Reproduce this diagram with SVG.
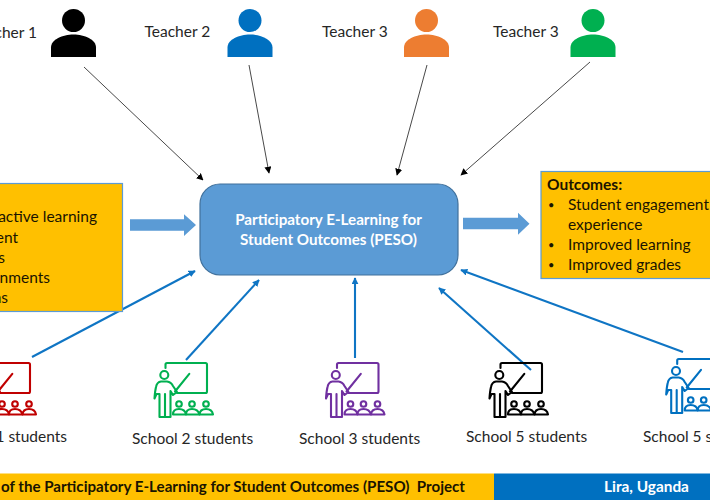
<svg xmlns="http://www.w3.org/2000/svg" width="710" height="500" viewBox="0 0 710 500">
  <style>
    text { font-family: "Lato", "Liberation Sans", sans-serif; font-size: 15.5px; fill: #262626; white-space: pre; }
    .mid { text-anchor: middle; }
    .end { text-anchor: end; }
    .box { fill: #FFC000; stroke: #5B9BD5; stroke-width: 1.2; }
    .list { fill: #1a1400; }
    .dot { fill: #1a1400; font-size: 11px; }
    .head { font-weight: 700; }
    .core { fill: #5B9BD5; stroke: #41719C; stroke-width: 1.2; }
    .core-label { fill: #fff; font-weight: 700; font-size: 15.2px; }
    .bar { font-weight: 700; font-size: 15.2px; fill: #1a1400; }
    .bar-light { font-weight: 700; font-size: 15.4px; fill: #fff; }
    .thin { stroke: #333; stroke-width: 0.9; fill: none; marker-end: url(#tipBlack); }
    .thick { stroke: #0F75C4; stroke-width: 2.1; fill: none; marker-end: url(#tipBlue); }
    .block { fill: #5B9BD5; }
    .glyph * { fill: none; stroke: currentColor; stroke-width: 2.1; stroke-linejoin: round; stroke-linecap: round; }
  </style>
  <defs>
    <marker id="tipBlack" viewBox="0 0 10 10" refX="9" refY="5" markerUnits="userSpaceOnUse" markerWidth="7" markerHeight="7" orient="auto">
      <path d="M0 0L10 5L0 10Z" fill="#000"/>
    </marker>
    <marker id="tipBlue" viewBox="0 0 10 10" refX="9" refY="5" markerUnits="userSpaceOnUse" markerWidth="7" markerHeight="7" orient="auto">
      <path d="M0 0L10 5L0 10Z" fill="#0F75C4"/>
    </marker>
    <!-- Person bust: head and shoulders, origin at the head centre -->
    <g id="bust">
      <circle cx="0" cy="0" r="11.5"/>
      <path d="M-22.5 36.5V27C-22.5 19 -11 14 0 14S22.5 19 22.5 27V36.5Z"/>
    </g>
    <!-- Lecturer at a board with three seated pupils -->
    <g id="classroom" class="glyph">
      <path d="M25.5 18V14.5Q25.5 13 27 13H65.5Q67 13 67 14.5V41.5Q67 43 65.5 43H37"/>
      <circle cx="24.3" cy="25" r="4"/>
      <path d="M19.5 67V44H16.5L14.5 48.5Q15 41 16 37Q17 32 21 31.5H27Q31 32 33 36L37 42L33 45L30.5 41V67Z"/>
      <path d="M25 44V67"/>
      <path d="M35 41.5L49.3 23.8" stroke-width="2.4"/>
      <circle cx="39" cy="54" r="2.8"/>
      <circle cx="52" cy="54" r="2.8"/>
      <circle cx="66" cy="54" r="2.8"/>
      <path d="M33 64.5Q33 59 39 59Q45 59 46 64.5Z"/>
      <path d="M46 64.5Q46 59 52 59Q58 59 59.5 64.5Z"/>
      <path d="M59.5 64.5Q60 59 66 59Q72 59 73 64.5Z"/>
    </g>
  </defs>

  <rect width="710" height="500" fill="#fff"/>

  <g id="connectors">
    <path class="thin" d="M84 67L203 180"/>
    <path class="thin" d="M249 65L269 173"/>
    <path class="thin" d="M427 65L397 175"/>
    <path class="thin" d="M590 62L461 175"/>
    <path class="thick" d="M32 357L195 271"/>
    <path class="thick" d="M186 360L259 280"/>
    <path class="thick" d="M355 358V278"/>
    <path class="thick" d="M531 370L439 288"/>
    <path class="thick" d="M683 352L461 270"/>
    <path class="block" d="M130 219.3H184V214.3L196 225L184 236V230.7H130Z"/>
    <path class="block" d="M463 217.7H518V212.7L529.5 223.7L518 234.7V229.3H463Z"/>
  </g>

  <g id="teacher-1">
    <use href="#bust" x="73.5" y="20.5" fill="#000"/>
    <text class="end" x="37" y="38">cher 1</text>
  </g>
  <g id="teacher-2">
    <use href="#bust" x="250" y="20.5" fill="#0070C0"/>
    <text x="144.5" y="37">Teacher 2</text>
  </g>
  <g id="teacher-3">
    <use href="#bust" x="426.5" y="20.5" fill="#ED7D31"/>
    <text x="322" y="37">Teacher 3</text>
  </g>
  <g id="teacher-4">
    <use href="#bust" x="593" y="20.5" fill="#00B050"/>
    <text x="493" y="37">Teacher 3</text>
  </g>

  <g id="inputs">
    <rect class="box" x="-10" y="183.5" width="132.5" height="128"/>
    <text class="list end" x="97" y="222">active learning</text>
    <text class="list end" x="18" y="243">ent</text>
    <text class="list end" x="5" y="263">s</text>
    <text class="list end" x="50" y="283">nments</text>
    <text class="list end" x="8" y="303">ns</text>
  </g>

  <g id="peso">
    <rect class="core" x="200" y="184" width="258" height="91" rx="20"/>
    <text class="core-label mid" x="328.5" y="225">Participatory E-Learning for</text>
    <text class="core-label mid" x="328.5" y="245">Student Outcomes (PESO)</text>
  </g>

  <g id="outcomes">
    <rect class="box" x="541" y="171.5" width="180" height="107"/>
    <text class="list head" x="547" y="190">Outcomes:</text>
    <text class="dot" x="548" y="209">•</text>
    <text class="list" x="568" y="210">Student engagement</text>
    <text class="list" x="568" y="230">experience</text>
    <text class="dot" x="548" y="249">•</text>
    <text class="list" x="568" y="250">Improved learning</text>
    <text class="dot" x="548" y="269">•</text>
    <text class="list" x="568" y="270">Improved grades</text>
  </g>

  <g id="school-1" color="#C00000">
    <use href="#classroom" x="-37" y="350"/>
    <text class="end" x="67" y="442">1 students</text>
  </g>
  <g id="school-2" color="#00B050">
    <use href="#classroom" x="140" y="350"/>
    <text x="132" y="444">School 2 students</text>
  </g>
  <g id="school-3" color="#7030A0">
    <use href="#classroom" x="311.5" y="350"/>
    <text x="299" y="444">School 3 students</text>
  </g>
  <g id="school-4" color="#000">
    <use href="#classroom" x="475" y="350"/>
    <text x="466" y="442">School 5 students</text>
  </g>
  <g id="school-5" color="#0070C0">
    <use href="#classroom" x="651.7" y="346"/>
    <text x="643" y="442">School 5 s</text>
  </g>

  <g id="footer">
    <rect x="0" y="473.5" width="494" height="26.5" fill="#FFC000"/>
    <rect x="494" y="473.5" width="216" height="26.5" fill="#0070C0"/>
    <text class="bar" x="1" y="492" textLength="464" lengthAdjust="spacingAndGlyphs">of the Participatory E-Learning for Student Outcomes (PESO)  Project</text>
    <text class="bar-light" x="604" y="492">Lira, Uganda</text>
  </g>
</svg>
